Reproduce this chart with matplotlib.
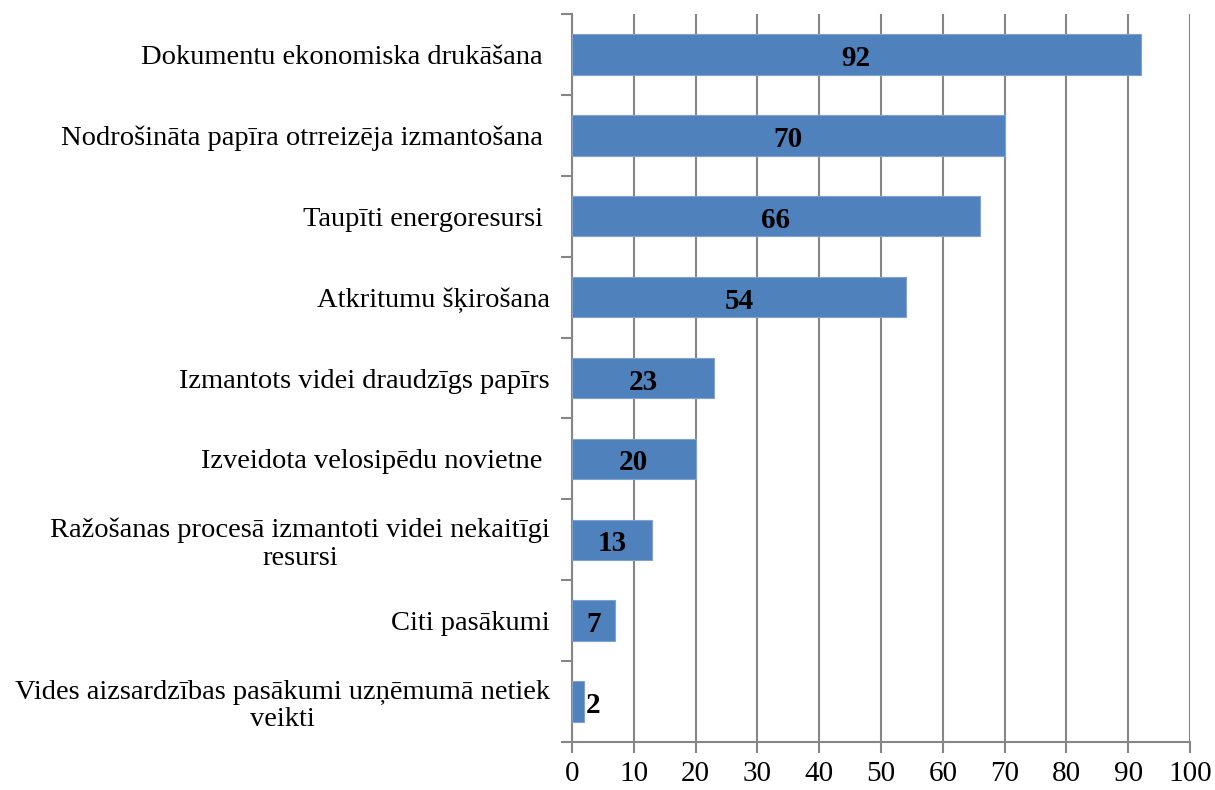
import matplotlib.pyplot as plt

categories = [
    "Dokumentu ekonomiska drukāšana ",
    "Nodrošināta papīra otrreizēja izmantošana ",
    "Taupīti energoresursi ",
    "Atkritumu šķirošana",
    "Izmantots videi draudzīgs papīrs",
    "Izveidota velosipēdu novietne ",
    "Ražošanas procesā izmantoti videi nekaitīgi\nresursi",
    "Citi pasākumi",
    "Vides aizsardzības pasākumi uzņēmumā netiek\nveikti",
]
values = [92, 70, 66, 54, 23, 20, 13, 7, 2]
xticks = list(range(0, 101, 10))

plt.rcParams['font.family'] = ['Liberation Serif', 'DejaVu Serif']

fig = plt.figure(figsize=(12.15, 7.9), dpi=100)
ax = fig.add_axes([572 / 1215, 48 / 790, 618 / 1215, 728 / 790])

pos = list(range(len(categories)))
ax.barh(pos, values, height=0.5, color='#4F81BD', edgecolor='#7FA3D0', linewidth=0.8, zorder=3)

for p, v in zip(pos, values):
    if v < 5:
        ax.text(v + 0.3, p + 0.05, str(v), ha='left', va='center',
                fontsize=21, fontweight='bold', zorder=4)
    else:
        ax.text(v / 2, p + 0.05, str(v), ha='center', va='center',
                fontsize=21, fontweight='bold', zorder=4)

ax.set_xlim(0, 100)
ax.set_ylim(len(categories) - 0.5, -0.5)
ax.set_xticks(xticks)
ax.set_xticklabels([str(t) for t in xticks], fontsize=21)
ax.set_yticks(pos)
ax.set_yticklabels(categories, fontsize=20.5, multialignment='center', linespacing=1.15)
ax.set_yticks([p - 0.5 for p in range(len(categories) + 1)], minor=True)

ax.tick_params(axis='y', which='major', length=0, pad=16)
ax.tick_params(axis='y', which='minor', length=8, width=1.5, color='#868686')
ax.tick_params(axis='x', length=8, width=1.5, color='#868686', pad=6)

ax.grid(axis='x', color='#868686', linewidth=1.5, zorder=0)
for s in ['top', 'right']:
    ax.spines[s].set_visible(False)
for s in ['left', 'bottom']:
    ax.spines[s].set_color('#868686')
    ax.spines[s].set_linewidth(1.5)

fig.savefig('out.png', dpi=100)
